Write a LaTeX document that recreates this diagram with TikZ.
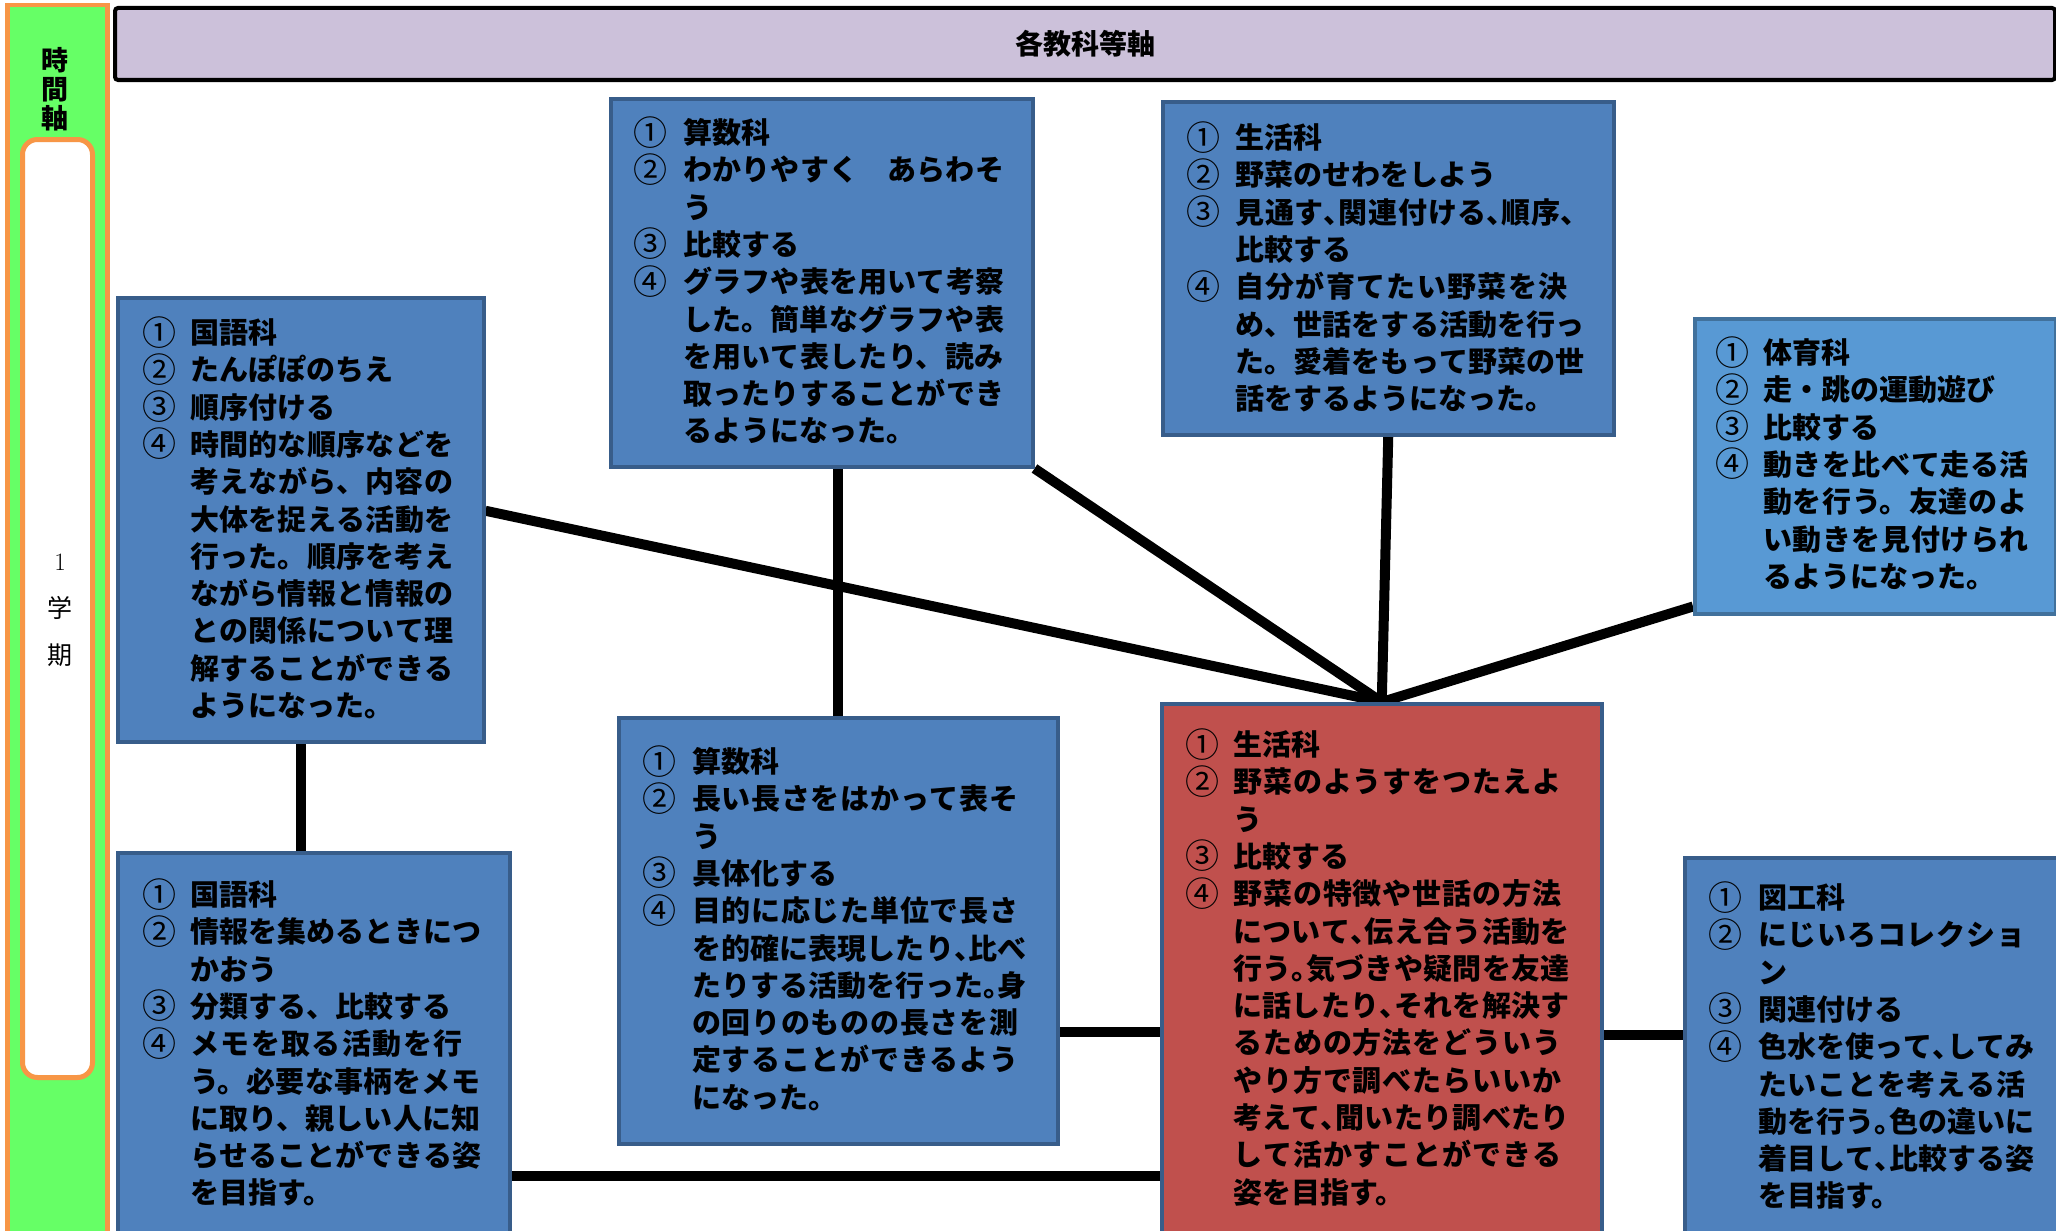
\documentclass[tikz,border=0pt]{standalone}
\usepackage{fontspec}
\newfontfamily\jp{Noto Sans CJK JP}
\usetikzlibrary{calc}
\XeTeXlinebreaklocale "ja"
\XeTeXlinebreakskip=0pt plus 4pt
\tolerance=10000
\hbadness=10000
\definecolor{boxblue}{HTML}{4F81BD}
\definecolor{boxline}{HTML}{385D8A}
\definecolor{ltblue}{HTML}{5899D4}
\definecolor{ltline}{HTML}{41719C}
\definecolor{redfill}{HTML}{C0504D}
\definecolor{hdrfill}{HTML}{CCC1DA}
\definecolor{grn}{HTML}{66FF66}
\definecolor{org}{HTML}{F79646}
\newlength\jind
\newcommand\ji[2]{\par\noindent\hangindent=\jind\hangafter=1\relax\makebox[\jind][l]{\strut\smash{\raisebox{-1.5pt}{\mdseries\fontsize{34}{37.3}\selectfont#1}}}#2\par}
\newcommand\hp[1]{\makebox[0.5em][l]{#1}}
\newcommand\lb{\linebreak}
\pgfdeclarelayer{bg}
\pgfsetlayers{bg,main}
\tikzset{
  box/.style={rectangle, draw=boxline, line width=3.5pt, fill=boxblue, inner sep=0pt, anchor=north west},
  txt/.style={anchor=north west, inner sep=0pt, text=black,
    font=\jp\bfseries\fontsize{29}{37.3}\selectfont},
  conn/.style={line width=10pt, draw=black},
}
\begin{document}
\begin{tikzpicture}[x=1pt,y=-1pt]
\useasboundingbox (0,0) rectangle (2056,1231);
\begin{pgfonlayer}{bg}
\fill[white] (0,0) rectangle (2056,1231);
\end{pgfonlayer}

% time axis bar
\node[rectangle, draw=org, fill=grn, line width=4.5pt, inner sep=0pt, anchor=north west,
      minimum width=100pt, minimum height=1270pt] (tbar) at (5,3) {};
\node[rectangle, draw=org, fill=white, line width=5pt, rounded corners=15pt, inner sep=0pt,
      anchor=north west, minimum width=70pt, minimum height=938pt] (tin) at (20,137) {};
\node[align=center, inner sep=0pt, font=\jp\bfseries\fontsize{27}{29}\selectfont] (tlabel) at (55,89) {時\\間\\軸};
\node[align=center, inner sep=0pt, font=\fontsize{25}{47}\selectfont] (term) at (60,610) {1\\{\jp 学}\\{\jp 期}};

% header
\node[rectangle, draw=black, fill=hdrfill, line width=4pt, rounded corners=3pt, inner sep=0pt,
      anchor=north west, minimum width=1940pt, minimum height=72pt] (hdr) at (113,6) {};
\node[inner sep=0pt, font=\jp\bfseries\fontsize{28}{34}\selectfont] (title) at (hdr.center) {各教科等軸};

% boxes
\node[box, minimum width=422pt, minimum height=368pt] (s1) at (609,97) {};
\node[box, minimum width=451pt, minimum height=333pt] (g1) at (1161,100) {};
\node[box, minimum width=366pt, minimum height=444pt] (k1) at (116,296) {};
\node[box, fill=ltblue, draw=ltline, minimum width=361pt, minimum height=295pt] (t1) at (1693,317) {};
\node[box, minimum width=439pt, minimum height=426pt] (s2) at (617,716) {};
\node[box, fill=redfill, minimum width=440pt, minimum height=558pt] (red) at (1160,702) {};
\node[box, minimum width=392pt, minimum height=409pt] (k2) at (116,851) {};
\node[box, minimum width=387pt, minimum height=404pt] (z1) at (1683,856) {};

% connectors
\coordinate (ya) at (0,1032);
\coordinate (yb) at (0,1035);
\coordinate (yc) at (0,1176);
\begin{pgfonlayer}{bg}
\draw[conn] ([yshift=9pt]k1.east) -- (red.north);
\draw[conn] (s1.south east) -- (red.north);
\draw[conn] (g1.south) -- (red.north);
\draw[conn] ([yshift=9pt]t1.south west) -- (red.north);
\draw[conn] (s2.north) -- (s2.north |- s1.south);
\draw[conn] (k1.south) -- (k1.south |- k2.north);
\draw[conn] (s2.east |- ya) -- (red.west |- ya);
\draw[conn] (red.east |- yb) -- (z1.west |- yb);
\draw[conn] (k2.east |- yc) -- (red.west |- yc);
\end{pgfonlayer}

% texts
\node[txt, text width=374pt] (s1t) at (633,106) {\setlength\jind{50pt}%
\ji{①}{算数科}%
\ji{②}{わかりやすく　あらわそ\lb う}%
\ji{③}{比較する}%
\ji{④}{グラフや表を用いて考察\lb した。簡単なグラフや表\lb を用いて表したり、読み\lb 取ったりすることができ\lb るようになった。}};

\node[txt, text width=401pt] (g1t) at (1186,111) {\setlength\jind{49pt}%
\ji{①}{生活科}%
\ji{②}{野菜のせわをしよう}%
\ji{③}{見通す\hp{、}関連付ける\hp{、}順序\hp{、}\lb 比較する}%
\ji{④}{自分が育てたい野菜を決\lb め、世話をする活動を行っ\lb た。愛着をもって野菜の世\lb 話をするようになった。}};

\node[txt, text width=315pt] (k1t) at (142,306) {\setlength\jind{48pt}%
\ji{①}{国語科}%
\ji{②}{たんぽぽのちえ}%
\ji{③}{順序付ける}%
\ji{④}{時間的な順序などを\lb 考えながら、内容の\lb 大体を捉える活動を\lb 行った。順序を考え\lb ながら情報と情報の\lb との関係について理\lb 解することができる\lb ようになった。}};

\node[txt, text width=322pt] (t1t) at (1715,326) {\setlength\jind{48pt}%
\ji{①}{体育科}%
\ji{②}{走・跳の運動遊び}%
\ji{③}{比較する}%
\ji{④}{動きを比べて走る活\lb 動を行う。友達のよ\lb い動きを見付けられ\lb るようになった。}};

\node[txt, text width=386pt] (s2t) at (642,735) {\setlength\jind{50pt}%
\ji{①}{算数科}%
\ji{②}{長い長さをはかって表そ\lb う}%
\ji{③}{具体化する}%
\ji{④}{目的に応じた単位で長さ\lb を的確に表現したり\hp{、}比べ\lb たりする活動を行った\hp{。}身\lb の回りのものの長さを測\lb 定することができるよう\lb になった。}};

\node[txt, text width=390pt] (redt) at (1185,718) {\setlength\jind{48pt}%
\ji{①}{生活科}%
\ji{②}{野菜のようすをつたえよ\lb う}%
\ji{③}{比較する}%
\ji{④}{野菜の特徴や世話の方法\lb について\hp{、}伝え合う活動を\lb 行う\hp{。}気づきや疑問を友達\lb に話したり\hp{、}それを解決す\lb るための方法をどういう\lb やり方で調べたらいいか\lb 考えて\hp{、}聞いたり調べたり\lb して活かすことができる\lb 姿を目指す。}};

\node[txt, text width=341pt] (k2t) at (142,868) {\setlength\jind{48pt}%
\ji{①}{国語科}%
\ji{②}{情報を集めるときにつ\lb かおう}%
\ji{③}{分類する、比較する}%
\ji{④}{メモを取る活動を行\lb う。必要な事柄をメモ\lb に取り、親しい人に知\lb らせることができる姿\lb を目指す。}};

\node[txt, text width=328pt] (z1t) at (1708,871) {\setlength\jind{50pt}%
\ji{①}{図工科}%
\ji{②}{にじいろコレクショ\lb ン}%
\ji{③}{関連付ける}%
\ji{④}{色水を使って\hp{、}してみ\lb たいことを考える活\lb 動を行う\hp{。}色の違いに\lb 着目して\hp{、}比較する姿\lb を目指す。}};
\end{tikzpicture}
\end{document}
